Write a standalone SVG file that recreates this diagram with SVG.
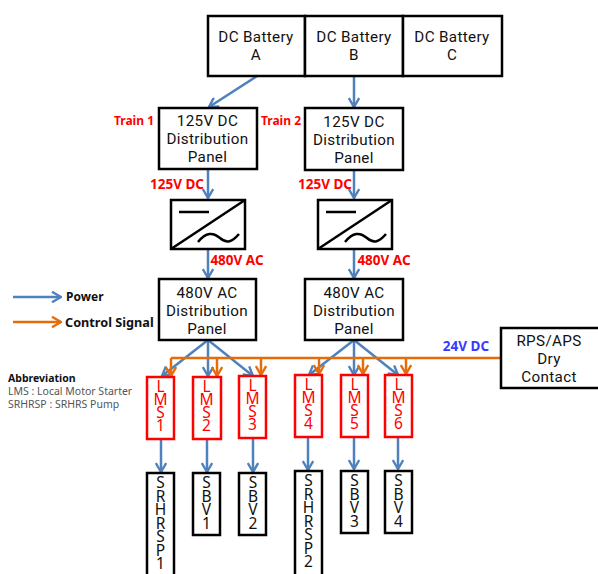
<svg xmlns="http://www.w3.org/2000/svg" width="598" height="574" viewBox="0 0 598 574">
<style>
text{font-family:"Noto Sans","Liberation Sans",sans-serif;text-anchor:middle}
.box{fill:#fff;stroke:#000;stroke-width:2.5}
.red{fill:#fff;stroke:#f00;stroke-width:2.5}
.t{font-family:Roboto,"Noto Sans",sans-serif;font-size:15.2px;letter-spacing:.35px;fill:#111}
.v,.rv{font-size:15.5px;writing-mode:vertical-rl;text-orientation:upright;text-anchor:start;letter-spacing:-9px}
.v{fill:#111;letter-spacing:-8.5px}
.rv{fill:#f00}
.lab{font-size:12px;font-weight:700;fill:#f00}
.volt{font-size:13.5px;font-weight:700;fill:#f00}
.leg{font-size:12px;font-weight:700;fill:#111;text-anchor:start}
.ab{font-size:10.5px;fill:#555;text-anchor:start}
.p{fill:none;stroke:#4f81bd;stroke-width:2.5}
.c{fill:none;stroke:#e46c0a;stroke-width:2.5}
.sym{fill:none;stroke:#000;stroke-width:2.5}
</style>
<defs>
<marker id="ap" viewBox="0 0 12 12" refX="11" refY="6" markerWidth="12" markerHeight="12" markerUnits="userSpaceOnUse" orient="auto"><path d="M2 0.8L11 6L2 11.2" fill="none" stroke="#4f81bd" stroke-width="2.4"/></marker>
<marker id="ac" viewBox="0 0 12 12" refX="11" refY="6" markerWidth="12" markerHeight="12" markerUnits="userSpaceOnUse" orient="auto"><path d="M2 0.8L11 6L2 11.2" fill="none" stroke="#e46c0a" stroke-width="2.4"/></marker>
</defs>
<g id="connectors">
<path class="p" marker-end="url(#ap)" d="M257 76L209 107"/>
<path class="p" marker-end="url(#ap)" d="M354 76V107"/>
<path class="p" marker-end="url(#ap)" d="M208 169V198"/>
<path class="p" marker-end="url(#ap)" d="M354 170V198"/>
<path class="p" marker-end="url(#ap)" d="M208 249V278"/>
<path class="p" marker-end="url(#ap)" d="M354 249V278"/>
<path class="p" marker-end="url(#ap)" d="M208 340L162 376"/>
<path class="p" marker-end="url(#ap)" d="M208 340V376"/>
<path class="p" marker-end="url(#ap)" d="M208 340L253 376"/>
<path class="p" marker-end="url(#ap)" d="M354 340L309 375"/>
<path class="p" marker-end="url(#ap)" d="M354 340V375"/>
<path class="p" marker-end="url(#ap)" d="M354 340L398 375"/>
<path class="c" d="M171 358H501"/>
<path class="c" marker-end="url(#ac)" d="M171 358V376"/>
<path class="c" marker-end="url(#ac)" d="M217 358V376"/>
<path class="c" marker-end="url(#ac)" d="M261 358V375"/>
<path class="c" marker-end="url(#ac)" d="M319 358V374"/>
<path class="c" marker-end="url(#ac)" d="M363 358V374"/>
<path class="c" marker-end="url(#ac)" d="M406 358V374"/>
<path class="p" marker-end="url(#ap)" d="M161 439V472"/>
<path class="p" marker-end="url(#ap)" d="M207 439V472"/>
<path class="p" marker-end="url(#ap)" d="M253 438V472"/>
<path class="p" marker-end="url(#ap)" d="M308 437V470"/>
<path class="p" marker-end="url(#ap)" d="M354 437V469"/>
<path class="p" marker-end="url(#ap)" d="M398 437V469"/>
<path class="p" marker-end="url(#ap)" d="M13 297H61"/>
<path class="c" marker-end="url(#ac)" d="M13 322H61"/>
</g>
<g id="battery-a"><rect class="box" x="208" y="16" width="97" height="60"/><text class="t" y="42"><tspan x="256" >DC Battery</tspan><tspan x="256" dy="18">A</tspan></text></g>
<g id="battery-b"><rect class="box" x="305" y="16" width="98" height="60"/><text class="t" y="42"><tspan x="354">DC Battery</tspan><tspan x="354" dy="18">B</tspan></text></g>
<g id="battery-c"><rect class="box" x="403" y="16" width="99" height="60"/><text class="t" y="42"><tspan x="452">DC Battery</tspan><tspan x="452" dy="18">C</tspan></text></g>
<g id="panel-dc1"><rect class="box" x="159" y="108" width="98" height="61"/><text class="t" y="126"><tspan x="207.500">125V DC</tspan><tspan x="207.500" dy="18">Distribution</tspan><tspan x="207.500" dy="18">Panel</tspan></text></g>
<g id="panel-dc2"><rect class="box" x="305" y="108" width="98" height="62"/><text class="t" y="127"><tspan x="354">125V DC</tspan><tspan x="354" dy="18">Distribution</tspan><tspan x="354" dy="18">Panel</tspan></text></g>
<g id="converter1"><rect class="box" x="171" y="200" width="74" height="49"/><path class="sym" d="M171 249L245 200M179 212H209M198 242C206 232 213 232 220 238C227 244 232 242 239 234"/></g>
<g id="converter2"><rect class="box" x="318" y="200" width="74" height="49"/><path class="sym" d="M318 249L392 200M326 212H356M345 242C353 232 360 232 367 238C374 244 379 242 386 234"/></g>
<g id="panel-ac1"><rect class="box" x="159" y="279" width="97" height="61"/><text class="t" y="298"><tspan x="207">480V AC</tspan><tspan x="207" dy="18">Distribution</tspan><tspan x="207" dy="18">Panel</tspan></text></g>
<g id="panel-ac2"><rect class="box" x="305" y="279" width="98" height="61"/><text class="t" y="298"><tspan x="354">480V AC</tspan><tspan x="354" dy="18">Distribution</tspan><tspan x="354" dy="18">Panel</tspan></text></g>
<g id="rps"><rect class="box" x="501" y="328" width="99" height="60"/><text class="t" y="346"><tspan x="549">RPS/APS</tspan><tspan x="549" dy="18">Dry</tspan><tspan x="549" dy="18">Contact</tspan></text></g>
<g id="lms1"><rect class="red" x="147" y="377" width="27" height="62"/><text class="rv" x="160.500" y="375">LMS1</text></g>
<g id="lms2"><rect class="red" x="193" y="377" width="28" height="62"/><text class="rv" x="206.500" y="375">LMS2</text></g>
<g id="lms3"><rect class="red" x="239" y="376" width="27" height="62"/><text class="rv" x="252.500" y="374">LMS3</text></g>
<g id="lms4"><rect class="red" x="295" y="375" width="27" height="62"/><text class="rv" x="308.500" y="373">LMS4</text></g>
<g id="lms5"><rect class="red" x="341" y="375" width="27" height="62"/><text class="rv" x="354.500" y="373">LMS5</text></g>
<g id="lms6"><rect class="red" x="385" y="375" width="27" height="62"/><text class="rv" x="398.500" y="373">LMS6</text></g>
<g id="srhrsp1"><rect class="box" x="147" y="473" width="27" height="110"/><text class="v" x="160.500" y="471">SRHRSP1</text></g>
<g id="sbv1"><rect class="box" x="193" y="473" width="27" height="62"/><text class="v" x="206.500" y="471">SBV1</text></g>
<g id="sbv2"><rect class="box" x="239" y="473" width="27" height="62"/><text class="v" x="253" y="471">SBV2</text></g>
<g id="srhrsp2"><rect class="box" x="295" y="471" width="27" height="112"/><text class="v" x="308.500" y="469">SRHRSP2</text></g>
<g id="sbv3"><rect class="box" x="341" y="471" width="27" height="62"/><text class="v" x="354.500" y="469">SBV3</text></g>
<g id="sbv4"><rect class="box" x="385" y="471" width="27" height="62"/><text class="v" x="398.500" y="469">SBV4</text></g>
<g id="labels">
<text class="lab" x="134" y="125">Train 1</text>
<text class="lab" x="281" y="125">Train 2</text>
<text class="volt" x="177" y="189">125V DC</text>
<text class="volt" x="325" y="189">125V DC</text>
<text class="volt" x="237" y="265">480V AC</text>
<text class="volt" x="384" y="265">480V AC</text>
<text class="volt" x="466" y="351" style="fill:#3a3aff">24V DC</text>
<text class="leg" x="66" y="301">Power</text>
<text class="leg" x="65" y="327" style="font-size:12.700px">Control Signal</text>
<text class="leg" x="8" y="382" style="font-size:10.500px">Abbreviation</text>
<text class="ab" x="8" y="395">LMS : Local Motor Starter</text>
<text class="ab" x="8" y="408">SRHRSP : SRHRS Pump</text>
</g>
</svg>
